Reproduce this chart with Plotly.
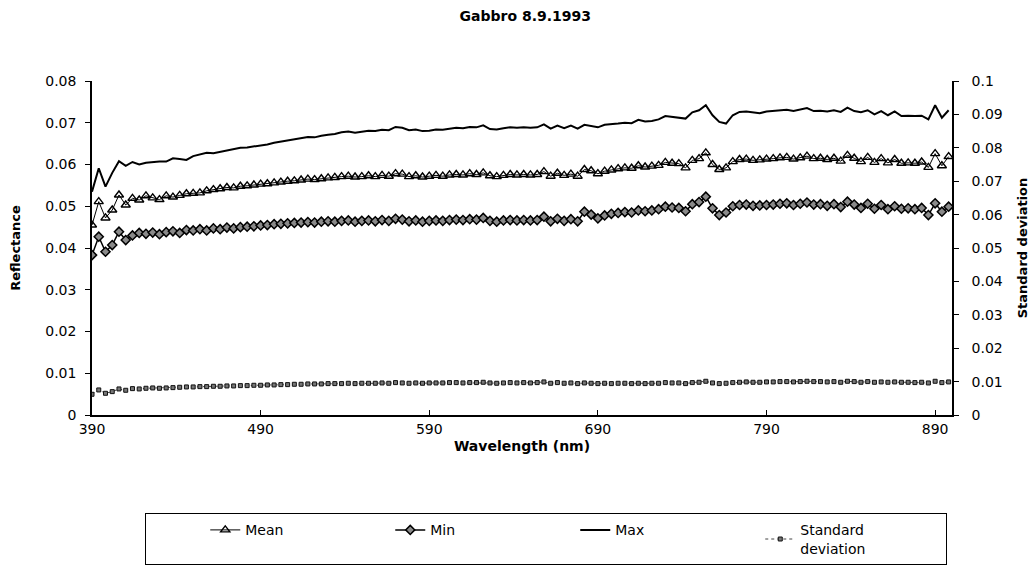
import plotly.graph_objects as go

# Wavelength (nm), 4 nm steps from 390 to 898
wavelength = list(range(390, 899, 4))

max_refl = [
    0.0535, 0.0591, 0.0547, 0.0580, 0.0608, 0.0597, 0.0606, 0.0600, 0.0604, 0.0606,
    0.0607, 0.0607, 0.0615, 0.0613, 0.0611, 0.0620, 0.0624, 0.0628, 0.0627, 0.0630,
    0.0634, 0.0637, 0.0640, 0.0641, 0.0643, 0.0646, 0.0648, 0.0652, 0.0655, 0.0658,
    0.0661, 0.0663, 0.0666, 0.0665, 0.0669, 0.0671, 0.0673, 0.0677, 0.0679, 0.0676,
    0.0678, 0.0681, 0.0680, 0.0683, 0.0682, 0.0690, 0.0688, 0.0682, 0.0684, 0.0680,
    0.0681, 0.0684, 0.0683, 0.0686, 0.0688, 0.0687, 0.0690, 0.0689, 0.0694, 0.0685,
    0.0684, 0.0687, 0.0689, 0.0688, 0.0689, 0.0688, 0.0689, 0.0696, 0.0686, 0.0693,
    0.0687, 0.0693, 0.0686, 0.0695, 0.0692, 0.0689, 0.0695, 0.0696, 0.0698, 0.0700,
    0.0699, 0.0707, 0.0703, 0.0704, 0.0708, 0.0716, 0.0714, 0.0713, 0.0710, 0.0725,
    0.0730, 0.0742, 0.0718, 0.0702, 0.0698, 0.0718, 0.0726, 0.0727, 0.0725, 0.0723,
    0.0727, 0.0728, 0.0730, 0.0731, 0.0728, 0.0731, 0.0735, 0.0728, 0.0729, 0.0727,
    0.0730, 0.0726, 0.0736, 0.0728, 0.0725, 0.0730, 0.0720, 0.0728, 0.0718, 0.0727,
    0.0716, 0.0717, 0.0716, 0.0717, 0.0708, 0.0742, 0.0712, 0.0730,
]

mean_refl = [
    0.0455, 0.0511, 0.0472, 0.0491, 0.0527, 0.0503, 0.0519, 0.0515, 0.0525, 0.0520,
    0.0516, 0.0525, 0.0522, 0.0526, 0.0530, 0.0531, 0.0532, 0.0537, 0.0540, 0.0542,
    0.0545, 0.0544, 0.0548, 0.0549, 0.0551, 0.0553, 0.0554, 0.0556, 0.0558, 0.0560,
    0.0561, 0.0563, 0.0565, 0.0564, 0.0566, 0.0568, 0.0569, 0.0571, 0.0572, 0.0570,
    0.0571, 0.0573, 0.0571, 0.0574, 0.0572, 0.0578, 0.0577, 0.0571, 0.0573, 0.0570,
    0.0572, 0.0574, 0.0572, 0.0575, 0.0576, 0.0575, 0.0578, 0.0576, 0.0580, 0.0573,
    0.0571, 0.0574, 0.0576, 0.0575, 0.0576, 0.0575, 0.0576, 0.0583, 0.0572, 0.0579,
    0.0574, 0.0577, 0.0572, 0.0588, 0.0585, 0.0578, 0.0584, 0.0587, 0.0590, 0.0592,
    0.0591, 0.0597, 0.0594, 0.0596, 0.0598, 0.0605, 0.0603, 0.0602, 0.0592, 0.0610,
    0.0614, 0.0628, 0.0600, 0.0588, 0.0592, 0.0607, 0.0612, 0.0613, 0.0610, 0.0611,
    0.0613, 0.0614, 0.0616, 0.0617, 0.0613, 0.0616, 0.0620, 0.0614, 0.0615, 0.0612,
    0.0615, 0.0608, 0.0622, 0.0615, 0.0607, 0.0617, 0.0605, 0.0614, 0.0604, 0.0612,
    0.0603, 0.0604, 0.0603, 0.0606, 0.0593, 0.0626, 0.0597, 0.0619,
]

min_refl = [
    0.0383, 0.0427, 0.0391, 0.0407, 0.0439, 0.0419, 0.0430, 0.0436, 0.0434, 0.0437,
    0.0433, 0.0438, 0.0440, 0.0436, 0.0443, 0.0442, 0.0445, 0.0442, 0.0447, 0.0445,
    0.0449, 0.0447, 0.0450, 0.0451, 0.0452, 0.0454, 0.0455, 0.0457, 0.0458, 0.0459,
    0.0460, 0.0461, 0.0462, 0.0461, 0.0463, 0.0464, 0.0463, 0.0465, 0.0466, 0.0463,
    0.0465, 0.0466, 0.0464, 0.0467, 0.0465, 0.0470, 0.0468, 0.0464, 0.0466, 0.0463,
    0.0465, 0.0466, 0.0465, 0.0467, 0.0468, 0.0467, 0.0469, 0.0468, 0.0472, 0.0465,
    0.0463, 0.0466, 0.0467, 0.0466, 0.0467, 0.0466, 0.0467, 0.0475, 0.0464, 0.0470,
    0.0465, 0.0469, 0.0464, 0.0487, 0.0480, 0.0471, 0.0478, 0.0482, 0.0484, 0.0486,
    0.0485, 0.0490, 0.0488, 0.0490, 0.0493, 0.0499, 0.0497, 0.0496, 0.0488, 0.0505,
    0.0510, 0.0523, 0.0495, 0.0479, 0.0485, 0.0500, 0.0503, 0.0504, 0.0501, 0.0502,
    0.0503, 0.0504, 0.0506, 0.0507, 0.0503, 0.0506, 0.0509, 0.0504, 0.0505, 0.0501,
    0.0505, 0.0498, 0.0511, 0.0504, 0.0496, 0.0506, 0.0494, 0.0503, 0.0493, 0.0500,
    0.0494, 0.0495, 0.0493, 0.0496, 0.0479, 0.0507, 0.0487, 0.0499,
]

std_dev = [
    0.0062, 0.0075, 0.0065, 0.0070, 0.0078, 0.0074, 0.0079, 0.0078, 0.0080, 0.0081,
    0.0080, 0.0081, 0.0082, 0.0083, 0.0084, 0.0084, 0.0085, 0.0085, 0.0086, 0.0086,
    0.0087, 0.0087, 0.0088, 0.0088, 0.0089, 0.0089, 0.0090, 0.0090, 0.0091, 0.0091,
    0.0092, 0.0092, 0.0093, 0.0093, 0.0093, 0.0094, 0.0094, 0.0094, 0.0095, 0.0094,
    0.0095, 0.0095, 0.0095, 0.0096, 0.0095, 0.0097, 0.0096, 0.0095, 0.0096, 0.0095,
    0.0096, 0.0096, 0.0096, 0.0097, 0.0097, 0.0096, 0.0097, 0.0097, 0.0098, 0.0096,
    0.0095, 0.0096, 0.0097, 0.0096, 0.0097, 0.0096, 0.0097, 0.0099, 0.0095, 0.0097,
    0.0095, 0.0096, 0.0094, 0.0096, 0.0095, 0.0094, 0.0095, 0.0094, 0.0095, 0.0095,
    0.0094, 0.0095, 0.0094, 0.0095, 0.0095, 0.0097, 0.0096, 0.0096, 0.0094, 0.0097,
    0.0098, 0.0101, 0.0096, 0.0094, 0.0095, 0.0097, 0.0098, 0.0099, 0.0098, 0.0098,
    0.0099, 0.0099, 0.0100, 0.0100, 0.0099, 0.0100, 0.0101, 0.0100, 0.0100, 0.0099,
    0.0100, 0.0098, 0.0101, 0.0100, 0.0098, 0.0100, 0.0098, 0.0099, 0.0098, 0.0099,
    0.0098, 0.0098, 0.0097, 0.0098, 0.0096, 0.0101, 0.0097, 0.0099,
]

x_ticks = [390, 490, 590, 690, 790, 890]

FONT = "DejaVu Sans"

fig = go.Figure()
fig.add_trace(go.Scatter(
    x=wavelength, y=mean_refl, name="Mean", mode="lines+markers",
    line=dict(color="black", width=1),
    marker=dict(symbol="triangle-up-open", size=8, color="black", line=dict(width=1.4, color="black")),
))
fig.add_trace(go.Scatter(
    x=wavelength, y=min_refl, name="Min", mode="lines+markers",
    line=dict(color="black", width=1.5),
    marker=dict(symbol="diamond", size=7, color="#8a8a8a", line=dict(width=1.5, color="black")),
))
fig.add_trace(go.Scatter(
    x=wavelength, y=max_refl, name="Max", mode="lines",
    line=dict(color="black", width=2),
))
fig.add_trace(go.Scatter(
    x=wavelength, y=std_dev, name="Standard<br>deviation", mode="lines+markers",
    yaxis="y2",
    line=dict(color="#444444", width=1, dash="dot"),
    marker=dict(symbol="square", size=4, color="#777777", line=dict(width=1, color="#111111")),
))

axis_common = dict(
    showline=True, linecolor="black", linewidth=1.5, showgrid=False, zeroline=False,
    ticklen=5, tickwidth=1, tickcolor="black",
    tickfont=dict(family=FONT, size=14, color="black"),
)

fig.update_layout(
    width=1036, height=578,
    margin=dict(l=92, r=84, t=81, b=163, autoexpand=False),
    paper_bgcolor="white", plot_bgcolor="white",
    font=dict(family=FONT, color="black"),
    title=dict(text="<b>Gabbro 8.9.1993</b>", x=0.507, xanchor="center",
               y=1 - 16 / 578, yanchor="middle", yref="container",
               font=dict(family=FONT, size=14, color="black")),
    xaxis=dict(
        range=[390, 900], tickvals=x_ticks, ticktext=[str(v) for v in x_ticks],
        ticks="inside",
        title=dict(text="<b>Wavelength (nm)</b>", font=dict(family=FONT, size=14), standoff=6),
        **axis_common,
    ),
    yaxis=dict(
        range=[0, 0.08], dtick=0.01, tick0=0, ticks="outside",
        title=dict(text="<b>Reflectance</b>", font=dict(family=FONT, size=13), standoff=22),
        ticklabelstandoff=6,
        **axis_common,
    ),
    yaxis2=dict(
        range=[0, 0.1], dtick=0.01, tick0=0, overlaying="y", side="right", ticks="outside",
        title=dict(text="<b>Standard deviation</b>", font=dict(family=FONT, size=13), standoff=16),
        ticklabelstandoff=10,
        **axis_common,
    ),
    showlegend=True,
    legend=dict(
        orientation="h", x=(145 - 92) / 860, xanchor="left",
        y=(415 - 513) / 334, yanchor="top",
        bordercolor="black", borderwidth=1.3, bgcolor="white",
        entrywidth=140, entrywidthmode="pixels",
        font=dict(family=FONT, size=14, color="black"),
        title=dict(text="&nbsp;" * 11, font=dict(family=FONT, size=14), side="left"),
        traceorder="normal", valign="middle",
    ),
)

fig.write_html("out.html")
